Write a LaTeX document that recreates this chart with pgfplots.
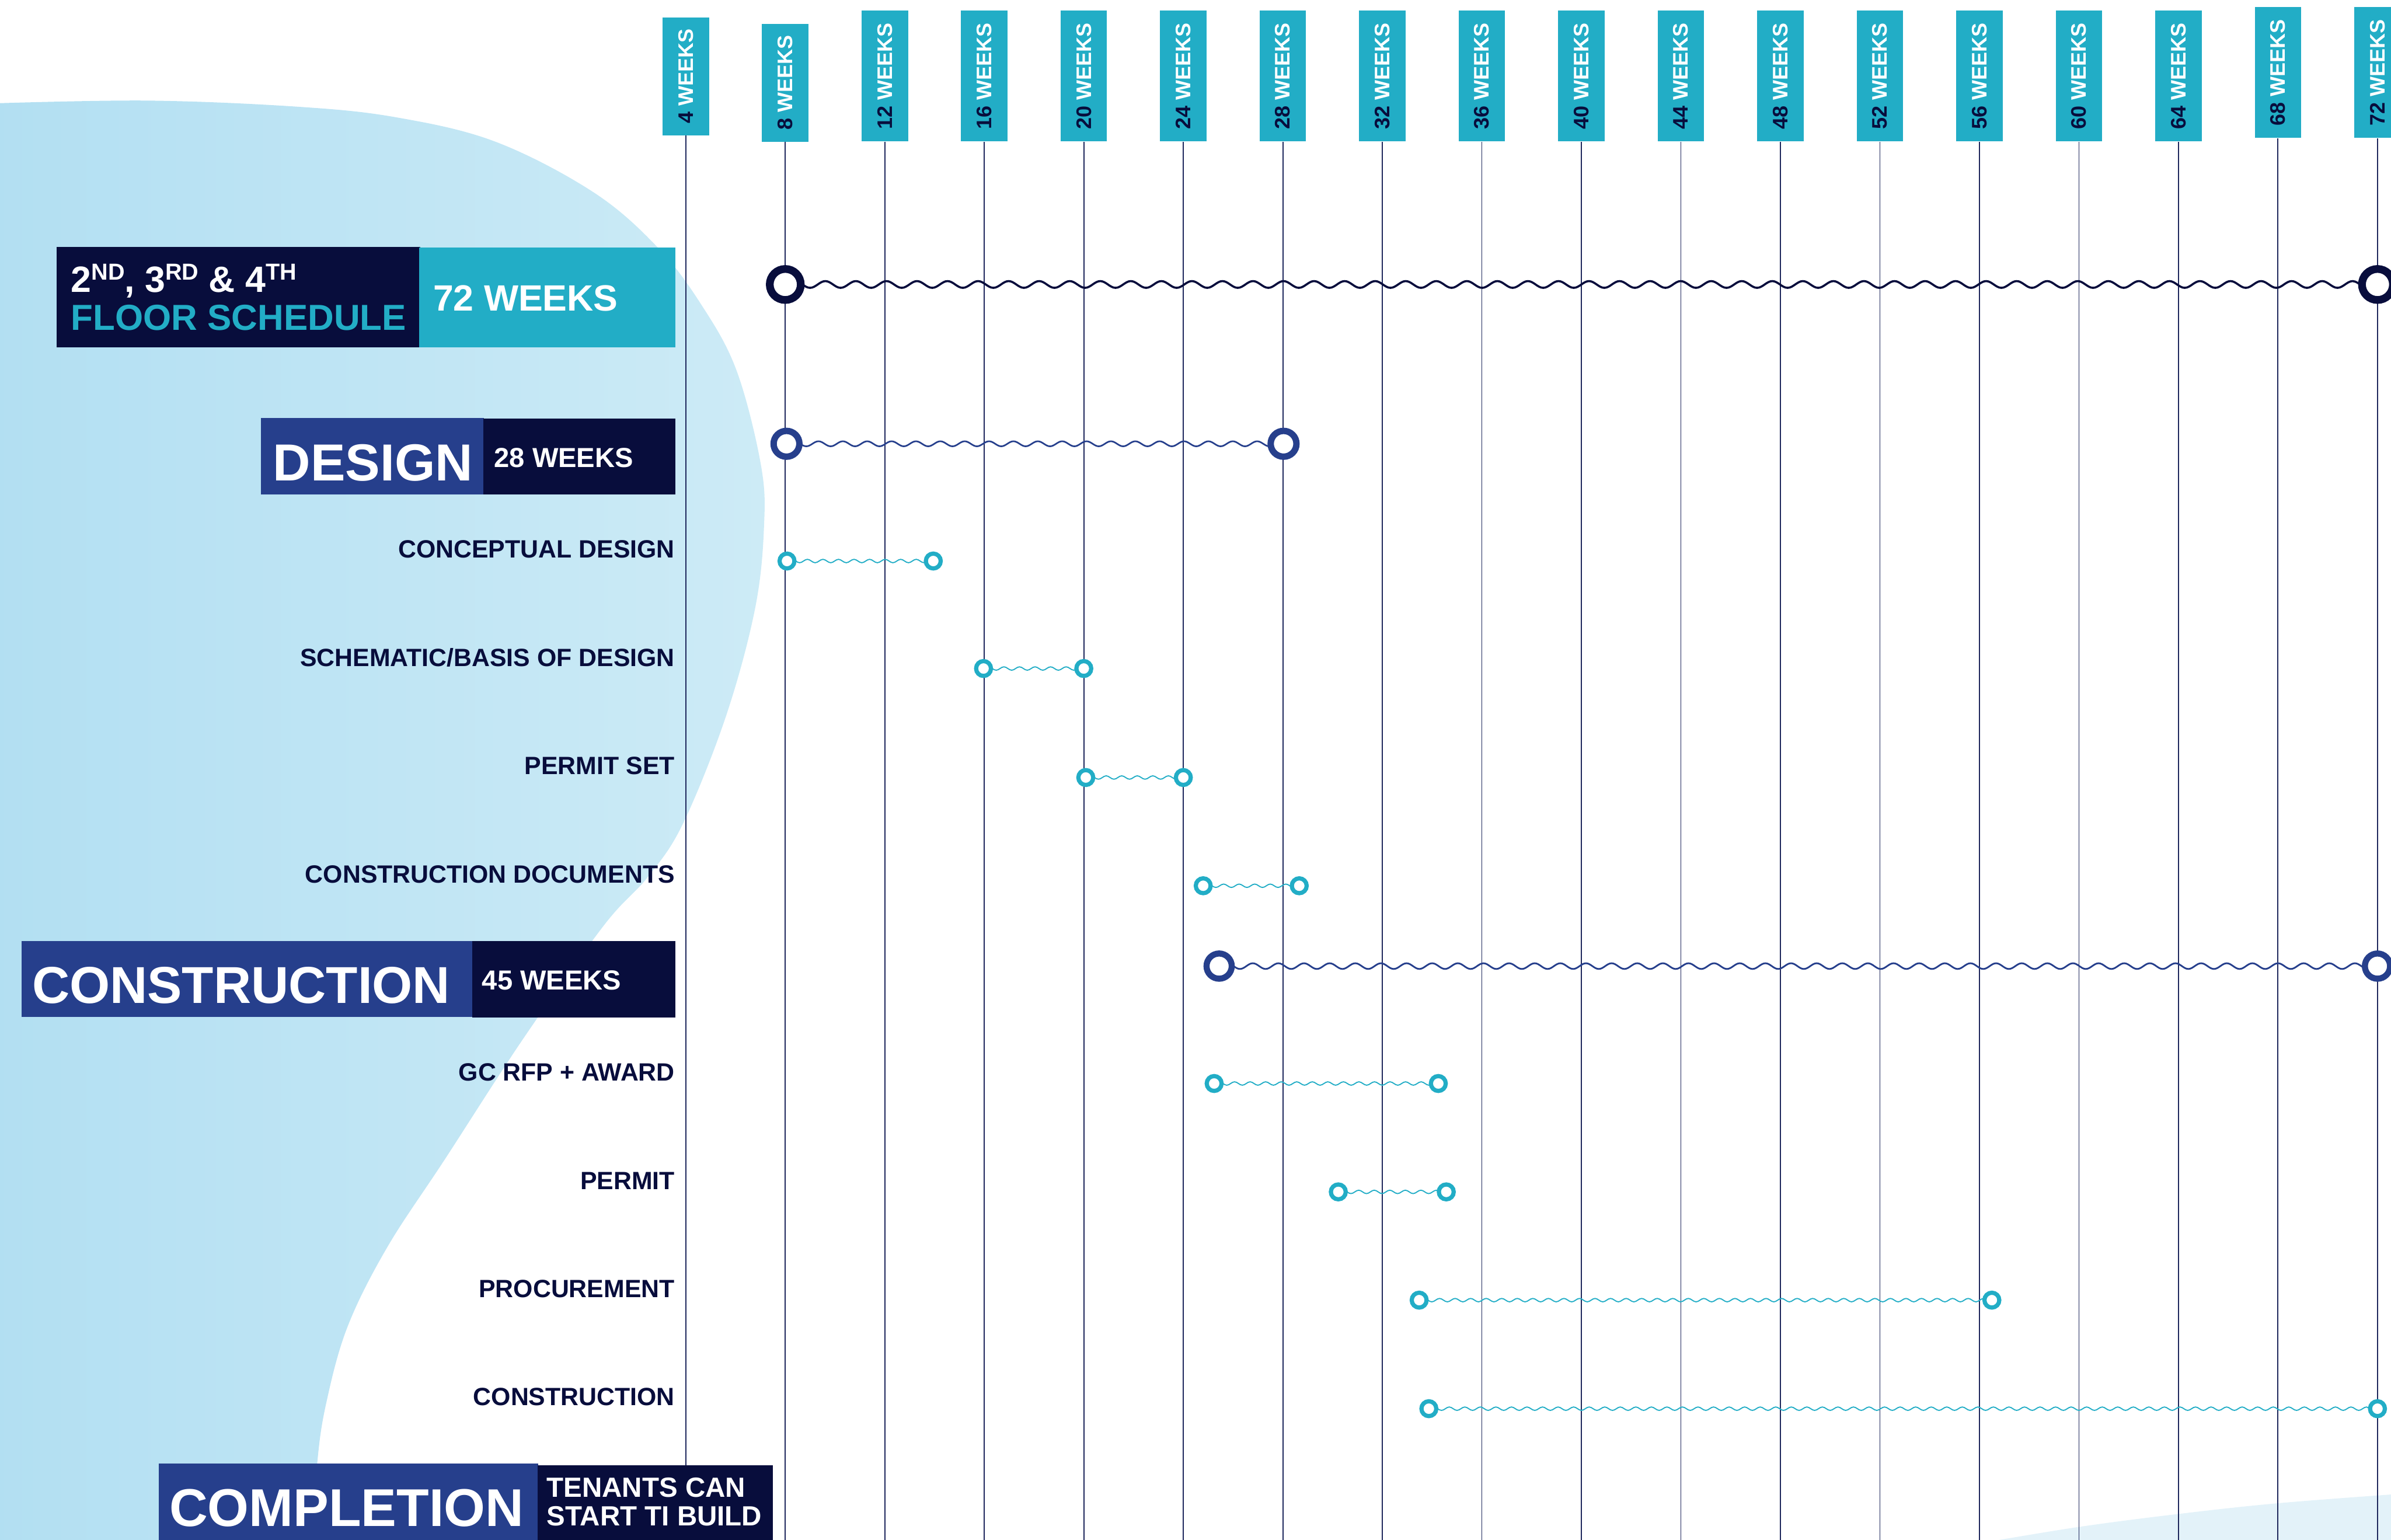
\documentclass[border=0pt]{standalone}
\usepackage{fontspec}
\setmainfont{Liberation Sans}
\usepackage{pgfplots}
\pgfplotsset{compat=1.18}
\usetikzlibrary{decorations.pathmorphing}
\definecolor{navy}{HTML}{080D3C}
\definecolor{mblue}{HTML}{263F8C}
\definecolor{teal2}{HTML}{22ADC6}
\definecolor{gridc}{HTML}{1E275C}
\definecolor{blobL}{HTML}{B2DFF2}
\definecolor{blobR}{HTML}{CDEBF6}
\definecolor{blob2}{HTML}{E3F2F9}
\newcommand\X[1]{\fpeval{4+(#1-449.7)/16.315}}
\newcommand\fs[1]{\fontsize{#1}{#1}\selectfont\bfseries}
\newcommand\sups[1]{\raisebox{3.0pt}{\fontsize{5.5pt}{5.5pt}\selectfont #1}}
\def\weektag#1/#2/#3\relax{%
  \draw[gridc, line width=0.25pt] (axis cs:#1,#3) -- (axis cs:#1,1012);
  \node[fill=teal2, rotate=90, inner sep=0pt, text=white,
        minimum width={(#3-#2)*0.36156pt}, minimum height={30.6*0.36156pt},
        font=\fs{5pt}] at (axis cs:#1,\fpeval{(#2+#3)/2}) {\textcolor{navy}{#1} WEEKS};
}
\newcommand\rowlabel[2]{\node[anchor=base east, inner sep=0pt, text=navy, font=\fs{5.95pt}] at (axis cs:\X{443},#1) {#2};}
\begin{document}
\begin{tikzpicture}
\begin{axis}[name=ax, width=20cm, height=12.879cm, scale only axis,
  xmin=-23.564, xmax=72.545, ymin=0, ymax=1010, y dir=reverse,
  hide axis, clip=false]
% background blobs
\addplot[draw=none, left color=blobL, right color=blobR, smooth, tension=0.6]
  table[x expr={4+(\thisrow{px}-449.7)/16.315}, y=py] {
px py
-4 67.8
97 66
195 70
260 77
325 93
389 126
431 162
460 200
483 243
499 305
501 346
495 400
476 470
448 540
425 575
396 607
344 680
292 760
254 818
228 870
214 920
208 960
205 1014
} -- (axis cs:-24,1014) -- cycle;
\addplot[draw=none, fill=blob2, smooth, tension=0.6]
  table[x expr={4+(\thisrow{px}-449.7)/16.315}, y=py] {
px py
1300 1012
1363 1001.6
1429 993
1494 986
1572 980
} -- (axis cs:72.8,1012) -- cycle;
% week tags and grid lines
\weektag 4/11.2/88.8\relax
\weektag 8/15.5/93\relax
\weektag 12/6.9/93\relax
\weektag 16/6.9/93\relax
\weektag 20/6.9/93\relax
\weektag 24/6.9/93\relax
\weektag 28/6.9/93\relax
\weektag 32/6.9/93\relax
\weektag 36/6.9/93\relax
\weektag 40/6.9/93\relax
\weektag 44/6.9/93\relax
\weektag 48/6.9/93\relax
\weektag 52/6.9/93\relax
\weektag 56/6.9/93\relax
\weektag 60/6.9/93\relax
\weektag 64/6.9/93\relax
\weektag 68/4.6/90.7\relax
\weektag 72/4.6/90.7\relax
% floor schedule box
\fill[navy] (axis cs:\X{37},162) rectangle (axis cs:\X{275.5},228);
\fill[teal2] (axis cs:\X{275},162.5) rectangle (axis cs:\X{443},228);
\node[anchor=base west, inner sep=0pt, text=white, font=\fs{8.7pt}] at (axis cs:\X{46},191.8) {2\sups{ND}, 3\sups{RD} \& 4\sups{TH}};
\node[anchor=base west, inner sep=0pt, text=teal2, font=\fs{8.6pt}] at (axis cs:\X{46},216.7) {FLOOR SCHEDULE};
\node[anchor=base west, inner sep=0pt, text=white, font=\fs{8.7pt}] at (axis cs:\X{283.5},204) {72 WEEKS};
% design box
\fill[mblue] (axis cs:\X{171},274) rectangle (axis cs:\X{317.5},324.5);
\fill[navy] (axis cs:\X{317},274.5) rectangle (axis cs:\X{443},324.5);
\node[anchor=base west, inner sep=0pt, text=white, font=\fs{12.4pt}] at (axis cs:\X{178.5},315.4) {DESIGN};
\node[anchor=base west, inner sep=0pt, text=white, font=\fs{6.55pt}] at (axis cs:\X{323.5},306.5) {28 WEEKS};
% construction box
\fill[mblue] (axis cs:\X{14},617.2) rectangle (axis cs:\X{310},667);
\fill[navy] (axis cs:\X{309.5},617.2) rectangle (axis cs:\X{443},667.4);
\node[anchor=base west, inner sep=0pt, text=white, font=\fs{12.35pt}] at (axis cs:\X{20.5},657.9) {CONSTRUCTION};
\node[anchor=base west, inner sep=0pt, text=white, font=\fs{6.55pt}] at (axis cs:\X{315.6},649.2) {45 WEEKS};
% completion box
\fill[mblue] (axis cs:\X{104},960) rectangle (axis cs:\X{353},1014);
\fill[navy] (axis cs:\X{352.6},961) rectangle (axis cs:\X{507},1014);
\node[anchor=base west, inner sep=0pt, text=white, font=\fs{12.65pt}] at (axis cs:\X{110.5},1001) {COMPLETION};
\node[anchor=south west, inner sep=0pt, text depth=0pt, text=white, align=left,
      font={\fontsize{6.6pt}{6.8pt}\selectfont\bfseries}] at (axis cs:\X{358},1001.3) {TENANTS CAN\\START TI BUILD};
% row labels
\rowlabel{366}{CONCEPTUAL DESIGN}
\rowlabel{437}{SCHEMATIC/BASIS OF DESIGN}
\rowlabel{508}{PERMIT SET}
\rowlabel{579}{CONSTRUCTION DOCUMENTS}
\rowlabel{709}{GC RFP + AWARD}
\rowlabel{780}{PERMIT}
\rowlabel{851}{PROCUREMENT}
\rowlabel{922}{CONSTRUCTION}
% ---- schedule data ----
% overall floor schedule
\addplot[navy, line width=0.5pt, decorate, decoration={snake, amplitude=0.8pt, segment length=7.27pt}] coordinates {(8,186.6) (72,186.6)};
\addplot[only marks, mark=*, mark size=3.69pt, mark options={draw=navy, fill=white, line width=1.84pt, solid}] coordinates {(8,186.6) (72,186.6)};
% design
\addplot[mblue, line width=0.38pt, decorate, decoration={snake, amplitude=0.6pt, segment length=5.8pt}] coordinates {(8.05,291.1) (28.03,291.1)};
\addplot[only marks, mark=*, mark size=3.07pt, mark options={draw=mblue, fill=white, line width=1.52pt, solid}] coordinates {(8.05,291.1) (28.03,291.1)};
% construction
\addplot[mblue, line width=0.4pt, decorate, decoration={snake, amplitude=0.68pt, segment length=6.1pt}] coordinates {(25.44,633.7) (72,633.7)};
\addplot[only marks, mark=*, mark size=3.0pt, mark options={draw=mblue, fill=white, line width=1.45pt, solid}] coordinates {(25.44,633.7) (72,633.7)};
% sub tasks
\pgfplotsset{taskwave/.style={teal2, line width=0.26pt, decorate, decoration={snake, amplitude=0.4pt, segment length=3.7pt}},
  taskring/.style={only marks, mark=*, mark size=1.77pt, mark options={draw=teal2, fill=white, line width=1.0pt, solid}}}
\addplot[taskwave] coordinates {(8.07,368) (13.95,368)};
\addplot[taskring] coordinates {(8.07,368) (13.95,368)};
\addplot[taskwave] coordinates {(15.97,438.5) (20.0,438.5)};
\addplot[taskring] coordinates {(15.97,438.5) (20.0,438.5)};
\addplot[taskwave] coordinates {(20.08,510) (24.0,510)};
\addplot[taskring] coordinates {(20.08,510) (24.0,510)};
\addplot[taskwave] coordinates {(24.8,581) (28.66,581)};
\addplot[taskring] coordinates {(24.8,581) (28.66,581)};
\addplot[taskwave] coordinates {(25.24,710.7) (34.25,710.7)};
\addplot[taskring] coordinates {(25.24,710.7) (34.25,710.7)};
\addplot[taskwave] coordinates {(30.23,781.8) (34.57,781.8)};
\addplot[taskring] coordinates {(30.23,781.8) (34.57,781.8)};
\addplot[taskwave] coordinates {(33.48,852.8) (56.5,852.8)};
\addplot[taskring] coordinates {(33.48,852.8) (56.5,852.8)};
\addplot[taskwave] coordinates {(33.87,924) (72,924)};
\addplot[taskring] coordinates {(33.87,924) (72,924)};
\end{axis}
\pgfresetboundingbox
\path[use as bounding box] (ax.south west) rectangle (ax.north east);
\end{tikzpicture}
\end{document}
